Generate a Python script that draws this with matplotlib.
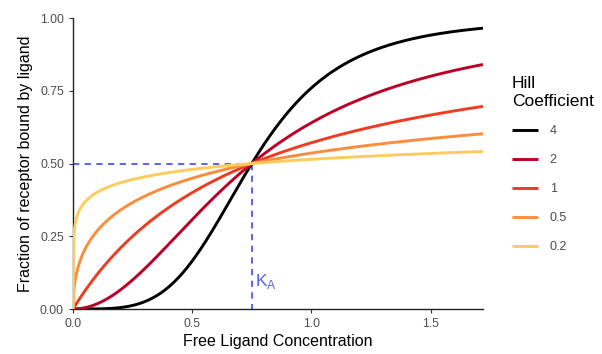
"""Fraction of receptor bound vs free ligand for several Hill coefficients."""

import matplotlib
matplotlib.use('Agg')
import matplotlib.pyplot as plt
import numpy as np

plt.rcParams['font.family'] = ['Liberation Sans', 'DejaVu Sans']

# model parameters
hill_coefficients = [4, 2, 1, 0.5, 0.2]
hill_labels = ['4', '2', '1', '0.5', '0.2']
k_a = 0.75
x_max = 1.72
curve_colors = ['#000000', '#BD0026', '#F03B20', '#FD8D3C', '#FECC5C']

x_ticks = [0.0, 0.5, 1.0, 1.5]
x_tick_labels = ['0.0', '0.5', '1.0', '1.5']
y_ticks = [0.0, 0.25, 0.5, 0.75, 1.0]
y_tick_labels = ['0.00', '0.25', '0.50', '0.75', '1.00']

grey = '#4D4D4D'
guide_blue = '#5A62F5'

fig = plt.figure(figsize=(6.02, 3.54), dpi=100)
ax = fig.add_axes([0.1213, 0.1271, 0.681, 0.822])

conc = np.linspace(0, x_max, 600)
for n, label, color in zip(hill_coefficients, hill_labels, curve_colors):
  bound = conc ** n / (k_a ** n + conc ** n)
  ax.plot(conc, bound, color=color, lw=2.1, label=label,
          solid_capstyle='butt', zorder=3)

ax.plot([0, k_a], [0.5, 0.5], color=guide_blue, lw=1.4, ls=(0, (3.2, 2.8)),
        zorder=2)
ax.plot([k_a, k_a], [0.5, 0], color=guide_blue, lw=1.4, ls=(0, (3.2, 2.8)),
        zorder=2)
ax.text(k_a + 0.015, 0.095, r'K$_\mathregular{A}$', color=guide_blue,
        fontsize=12.5, ha='left', va='center')

ax.set_xlim(0, x_max)
ax.set_ylim(0, 1)
ax.set_xticks(x_ticks, x_tick_labels)
ax.set_yticks(y_ticks, y_tick_labels)
ax.tick_params(colors='#333333', labelcolor=grey, labelsize=8.8, length=3,
               width=0.8)
for side in ('top', 'right'):
  ax.spines[side].set_visible(False)
for side in ('left', 'bottom'):
  ax.spines[side].set_color('#222222')
  ax.spines[side].set_linewidth(1.0)
ax.set_xlabel('Free Ligand Concentration', fontsize=11.5, labelpad=3)
ax.set_ylabel('Fraction of receptor bound by ligand', fontsize=11.5,
              labelpad=5)

legend = ax.legend(title='Hill\nCoefficient', loc='upper left',
                   bbox_to_anchor=(1.07, 0.80), frameon=False, fontsize=9,
                   title_fontsize=12.5, handlelength=2.1, labelspacing=1.35,
                   handletextpad=0.95, borderaxespad=0, borderpad=0)
legend._legend_box.align = 'left'
for text in legend.get_texts():
  text.set_color(grey)

fig.savefig('out.png', dpi=100)
